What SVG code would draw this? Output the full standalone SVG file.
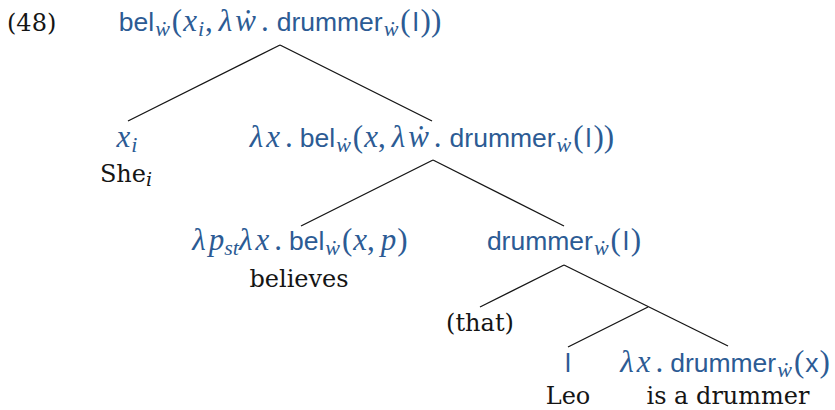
<svg xmlns="http://www.w3.org/2000/svg" width="835" height="410" viewBox="0 0 835 410">
<style>
.bg{fill:#fff}
.lab{fill:#2c5b94;font-size:26px;font-family:"Liberation Serif",serif}
.s{font-family:"Liberation Sans",sans-serif;font-style:normal;font-size:26.5px}
.i{font-family:"Liberation Serif","DejaVu Serif",serif;font-style:italic;font-size:31px}
.r{font-family:"Liberation Serif",serif;font-style:normal;font-size:31px}
.sub{font-family:"Liberation Serif","DejaVu Serif",serif;font-style:italic;font-size:22px}
.w{fill:#151515;font-family:"DejaVu Serif",serif;font-size:24px}
.wi{font-style:italic;font-size:19px}
.edge{stroke:#151515;stroke-width:1.3;fill:none}
</style>
<rect class="bg" x="0" y="0" width="835" height="410"/>
<text class="w" x="7" y="31">(48)</text>
<g id="connectors">
<line class="edge" x1="280" y1="45" x2="128" y2="121"/>
<line class="edge" x1="280" y1="45" x2="432" y2="121"/>
<line class="edge" x1="433" y1="160" x2="301" y2="226"/>
<line class="edge" x1="433" y1="160" x2="564" y2="226"/>
<line class="edge" x1="564" y1="265" x2="480" y2="307"/>
<line class="edge" x1="564" y1="265" x2="728" y2="346"/>
<line class="edge" x1="648" y1="307" x2="568" y2="347"/>
</g>
<g id="n-root">
<text class="lab" x="280" y="31" text-anchor="middle"><tspan class="s">bel</tspan><tspan class="sub" dy="5" dx="1">ẇ</tspan><tspan class="r" dy="-5" dx="2">(</tspan><tspan class="i" dx="1">x</tspan><tspan class="sub" dy="5" dx="1">i</tspan><tspan class="r" dy="-5" dx="1">,</tspan><tspan class="i" dx="6">λ</tspan><tspan class="i" dx="3">ẇ</tspan><tspan class="r" dx="5">.</tspan><tspan class="s" dx="8">drummer</tspan><tspan class="sub" dy="5" dx="1">ẇ</tspan><tspan class="r" dy="-5" dx="2">(</tspan><tspan class="s" dx="2">l</tspan><tspan class="r" dx="2">))</tspan></text>
</g>
<g id="n-she">
<text class="lab" x="127" y="147" text-anchor="middle"><tspan class="i">x</tspan><tspan class="sub" dy="5" dx="1">i</tspan></text>
<text class="w" x="126" y="182" text-anchor="middle">She<tspan class="wi" dy="4">i</tspan></text>
</g>
<g id="n-vp">
<text class="lab" x="432" y="147" text-anchor="middle"><tspan class="i">λ</tspan><tspan class="i" dx="3">x</tspan><tspan class="r" dx="5">.</tspan><tspan class="s" dx="7">bel</tspan><tspan class="sub" dy="5" dx="1">ẇ</tspan><tspan class="r" dy="-5" dx="2">(</tspan><tspan class="i" dx="1">x</tspan><tspan class="r">,</tspan><tspan class="i" dx="6">λ</tspan><tspan class="i" dx="3">ẇ</tspan><tspan class="r" dx="5">.</tspan><tspan class="s" dx="8">drummer</tspan><tspan class="sub" dy="5" dx="1">ẇ</tspan><tspan class="r" dy="-5" dx="2">(</tspan><tspan class="s" dx="2">l</tspan><tspan class="r" dx="2">))</tspan></text>
</g>
<g id="n-believes">
<text class="lab" x="300" y="250" text-anchor="middle"><tspan class="i">λ</tspan><tspan class="i" dx="3">p</tspan><tspan class="sub" dy="5">st</tspan><tspan class="i" dy="-5">λ</tspan><tspan class="i" dx="3">x</tspan><tspan class="r" dx="5">.</tspan><tspan class="s" dx="7">bel</tspan><tspan class="sub" dy="5" dx="1">ẇ</tspan><tspan class="r" dy="-5" dx="2">(</tspan><tspan class="i" dx="1">x</tspan><tspan class="r">,</tspan><tspan class="i" dx="6">p</tspan><tspan class="r" dx="1">)</tspan></text>
<text class="w" x="299" y="287" text-anchor="middle">believes</text>
</g>
<g id="n-drummer">
<text class="lab" x="564" y="250" text-anchor="middle"><tspan class="s">drummer</tspan><tspan class="sub" dy="5" dx="1">ẇ</tspan><tspan class="r" dy="-5" dx="2">(</tspan><tspan class="s" dx="2">l</tspan><tspan class="r" dx="2">)</tspan></text>
</g>
<g id="n-that">
<text class="w" x="480" y="331" text-anchor="middle">(that)</text>
</g>
<g id="n-leo">
<text class="lab" x="568" y="372" text-anchor="middle"><tspan class="s">l</tspan></text>
<text class="w" x="568" y="404" text-anchor="middle">Leo</text>
</g>
<g id="n-isadrummer">
<text class="lab" x="725" y="372" text-anchor="middle"><tspan class="i">λ</tspan><tspan class="i" dx="3">x</tspan><tspan class="r" dx="5">.</tspan><tspan class="s" dx="7">drummer</tspan><tspan class="sub" dy="5" dx="1">ẇ</tspan><tspan class="r" dy="-5" dx="2">(</tspan><tspan class="s" dx="1">x</tspan><tspan class="r" dx="1">)</tspan></text>
<text class="w" x="728" y="404" text-anchor="middle">is a drummer</text>
</g>
</svg>
